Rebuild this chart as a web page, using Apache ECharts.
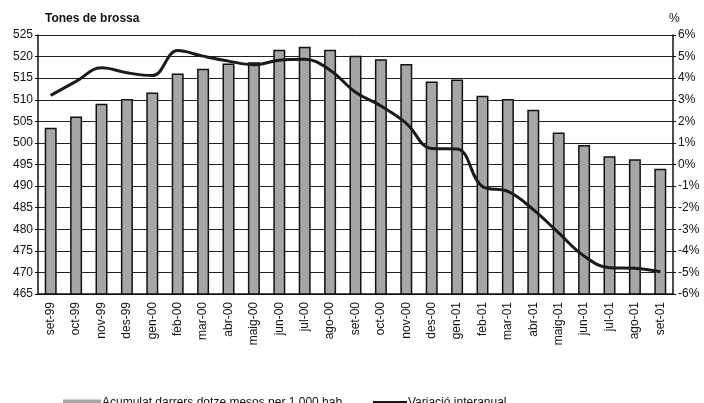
<!DOCTYPE html>
<html>
<head>
<meta charset="utf-8">
<script src="https://cdn.jsdelivr.net/npm/echarts@6/dist/echarts.min.js"></script>
<style>
  html, body { margin: 0; padding: 0; background: #fff; }
  #chart { width: 704px; height: 403px; }
</style>
</head>
<body>
<div id="chart"></div>
<script>
// mesos
var months = ['set-99','oct-99','nov-99','des-99','gen-00','feb-00','mar-00','abr-00','maig-00',
  'jun-00','jul-00','ago-00','set-00','oct-00','nov-00','des-00','gen-01','feb-01','mar-01',
  'abr-01','maig-01','jun-01','jul-01','ago-01','set-01'];
// tones per 1.000 hab. (eix esquerre)
var acumulat = [503.5, 506.1, 509.1, 510.2, 511.7, 516.1, 517.2, 518.4, 518.7,
  521.6, 522.3, 521.6, 520.2, 519.4, 518.3, 514.2, 514.7, 510.9, 510.2,
  507.7, 502.4, 499.5, 496.9, 496.2, 494.0];
// variacio interanual en % (eix dret)
var variacio = [3.2, 3.85, 4.48, 4.25, 4.12, 5.28, 5.02, 4.79, 4.62,
  4.83, 4.88, 4.37, 3.35, 2.71, 1.91, 0.74, 0.72, -1.02, -1.25,
  -2.09, -3.17, -4.24, -4.78, -4.81, -4.97];

var FONT = '"Liberation Sans", Arial, sans-serif';
var nomBarres = 'Acumulat darrers dotze mesos per 1.000 hab.';
var nomLinia = 'Variació interanual';

var chart = echarts.init(document.getElementById('chart'));
var option = {
  animation: false,
  textStyle: { fontFamily: FONT },
  title: [
    { text: 'Tones de brossa', left: 40, top: 8,
      textStyle: { fontSize: 12, fontWeight: 'bold', color: '#111', fontFamily: FONT } },
    { text: '%', left: 664, top: 8,
      textStyle: { fontSize: 12, fontWeight: 'normal', color: '#111', fontFamily: FONT } }
  ],
  legend: [
    { data: [nomBarres], left: 58, top: 392, icon: 'rect', itemWidth: 38, itemHeight: 7,
      itemStyle: { borderWidth: 0 },
      textStyle: { fontSize: 12, color: '#111', fontFamily: FONT, padding: [0, 0, 0, -4] } },
    { data: [nomLinia], left: 368, top: 392, icon: 'rect', itemWidth: 34, itemHeight: 4,
      textStyle: { fontSize: 12, color: '#111', fontFamily: FONT, padding: [0, 0, 0, -4] } }
  ],
  grid: { left: 38, right: 31, top: 35, bottom: 109 },
  xAxis: {
    type: 'category',
    data: months,
    axisLine: { onZero: false, lineStyle: { color: '#111', width: 1.5 } },
    axisTick: { length: 4, lineStyle: { color: '#111' } },
    axisLabel: { rotate: 90, fontSize: 12, color: '#111', margin: 8, interval: 0 }
  },
  yAxis: [
    {
      type: 'value', min: 465, max: 525, interval: 5,
      axisLine: { show: true, lineStyle: { color: '#111', width: 1.5 } },
      axisTick: { show: true, length: 3, lineStyle: { color: '#111' } },
      axisLabel: { fontSize: 12, color: '#111', margin: 5 },
      splitLine: { show: true, lineStyle: { color: '#222', width: 1 } }
    },
    {
      type: 'value', min: -6, max: 6, interval: 1,
      axisLine: { show: true, lineStyle: { color: '#111', width: 1.5 } },
      axisTick: { show: true, length: 3, lineStyle: { color: '#111' } },
      axisLabel: { fontSize: 12, color: '#111', margin: 5, formatter: '{value}%' },
      splitLine: { show: false }
    }
  ],
  series: [
    {
      name: nomBarres,
      type: 'bar',
      data: acumulat,
      barWidth: 12,
      itemStyle: { color: '#a6a6a8', borderColor: '#111', borderWidth: 1.5 }
    },
    {
      name: nomLinia,
      type: 'line',
      yAxisIndex: 1,
      data: variacio,
      smooth: 0.4,
      symbol: 'none',
      lineStyle: { color: '#1a1a1a', width: 3 },
      itemStyle: { color: '#1a1a1a' }
    }
  ]
};
chart.setOption(option);
</script>
</body>
</html>
